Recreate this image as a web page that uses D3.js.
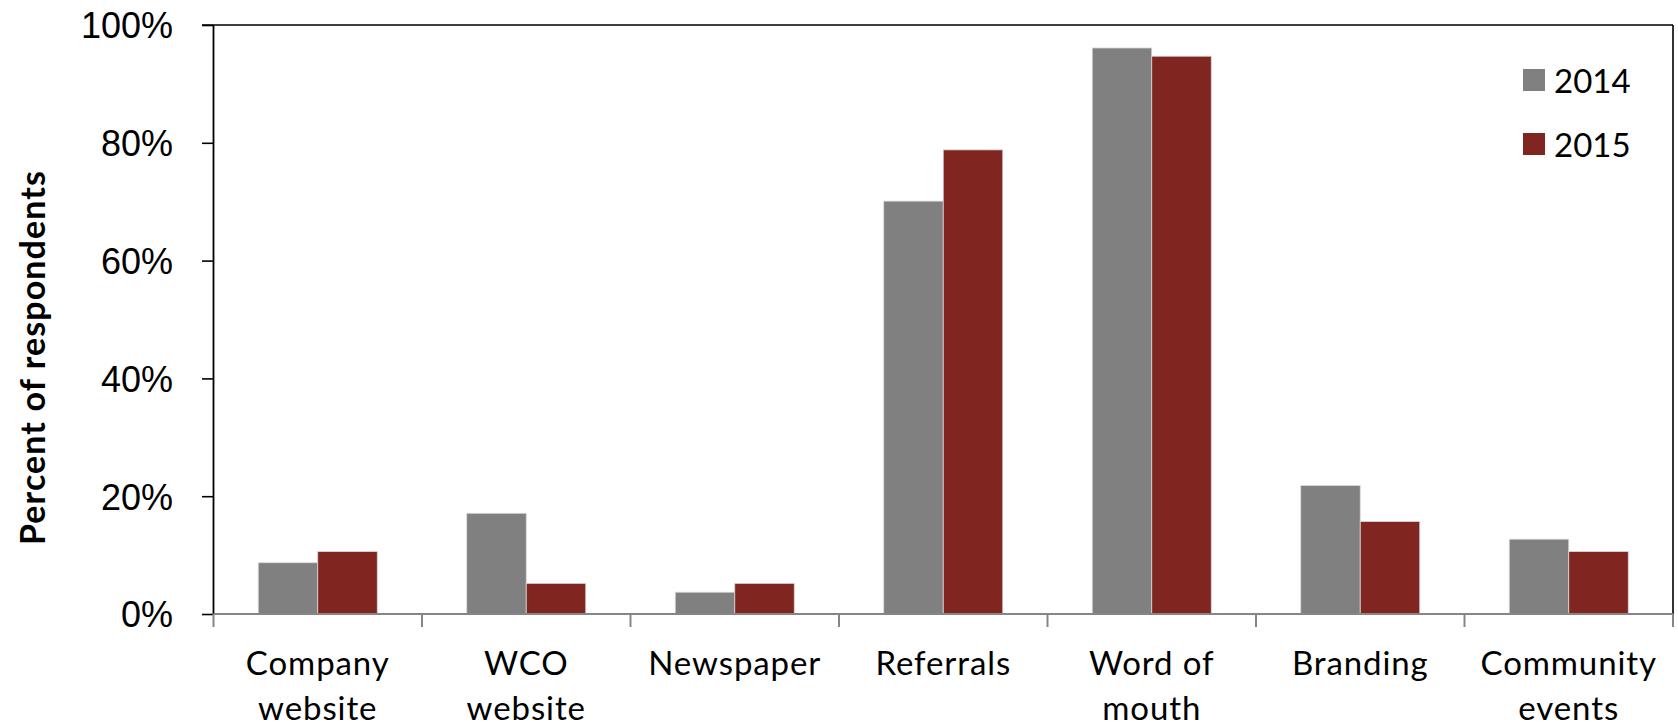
<!DOCTYPE html>
<html>
<head>
<meta charset="utf-8">
<script src="https://cdn.jsdelivr.net/npm/d3@7"></script>
<style>
  html, body { margin: 0; padding: 0; background: #fff; }
  svg { display: block; }
</style>
</head>
<body>
<svg id="chart" width="1678" height="726"></svg>
<script>
// ---- data ----
const categories = ["Company website", "WCO website", "Newspaper", "Referrals", "Word of mouth", "Branding", "Community events"];
const categoryLines = [["Company", "website"], ["WCO", "website"], ["Newspaper"], ["Referrals"], ["Word of", "mouth"], ["Branding"], ["Community", "events"]];
const seriesNames = ["2014", "2015"];
const values2014 = [8.7, 17.1, 3.7, 70.1, 96.1, 21.8, 12.7];
const values2015 = [10.6, 5.2, 5.2, 78.8, 94.7, 15.7, 10.6];
const yTicks = [0, 20, 40, 60, 80, 100];
const yTitle = "Percent of respondents";

// ---- layout ----
const svg = d3.select("#chart");
const L = 213.5, R = 1673, T = 25, B = 614;
const colors = { "2014": "#808080", "2015": "#80251f" };

const x = d3.scaleBand().domain(categories).range([L, R]).paddingInner(0).paddingOuter(0);
const bw = x.bandwidth();
const xs = d3.scaleBand().domain(seriesNames).range([bw * 0.2146, bw * 0.7854]).padding(0);
const y = d3.scaleLinear().domain([0, 100]).range([B, T]);

const rows = categories.map((c, i) => ({ cat: c, vals: [values2014[i], values2015[i]] }));

// bars
const g = svg.append("g");
rows.forEach(r => {
  seriesNames.forEach((s, j) => {
    g.append("rect")
      .attr("x", x(r.cat) + xs(s))
      .attr("y", y(r.vals[j]))
      .attr("width", xs.bandwidth())
      .attr("height", y(0) - y(r.vals[j]))
      .attr("fill", colors[s])
      .attr("stroke", "#d9d9d9")
      .attr("stroke-width", 0.8);
  });
});

// top and right border
svg.append("line").attr("x1", L - 11.5).attr("x2", R).attr("y1", y(100)).attr("y2", y(100))
  .attr("stroke", "#000").attr("stroke-width", 1.6);
svg.append("line").attr("x1", R).attr("x2", R).attr("y1", y(100)).attr("y2", y(0))
  .attr("stroke", "#000").attr("stroke-width", 1.6);

// y axis
const yAxis = d3.axisLeft(y).tickValues(yTicks).tickSize(11.5).tickPadding(29).tickFormat(d => d + "%");
const ya = svg.append("g").attr("transform", `translate(${L},0)`).call(yAxis);
ya.select(".domain").attr("stroke", "#000").attr("stroke-width", 1.8).attr("d", `M0,${T}V${B}`);
ya.selectAll(".tick line").attr("stroke", "#000").attr("stroke-width", 1.6);
ya.selectAll(".tick text")
  .attr("font-family", "'Liberation Sans', Arial, sans-serif")
  .attr("font-size", 36).attr("fill", "#000").attr("dy", "0.36em");

// x axis
const xa = svg.append("g").attr("transform", `translate(0,${B})`);
xa.append("line").attr("x1", L).attr("x2", R).attr("y1", 0).attr("y2", 0)
  .attr("stroke", "#868686").attr("stroke-width", 2.2);
const bounds = categories.map(c => x(c)).concat([R]);
xa.selectAll("line.xt").data(bounds).join("line").attr("class", "xt")
  .attr("x1", d => d).attr("x2", d => d).attr("y1", 0).attr("y2", 13)
  .attr("stroke", "#868686").attr("stroke-width", 2);

const labelFont = "Lato, 'Open Sans', sans-serif";
categories.forEach((c, i) => {
  const t = svg.append("text")
    .attr("x", x(c) + bw / 2).attr("y", 675)
    .attr("text-anchor", "middle")
    .attr("font-family", labelFont).attr("font-size", 33).attr("letter-spacing", 0.9).attr("fill", "#000");
  categoryLines[i].forEach((ln, k) => {
    t.append("tspan").attr("x", x(c) + bw / 2).attr("y", 675 + k * 45).text(ln);
  });
});

// y title
svg.append("text")
  .attr("transform", `translate(45,358) rotate(-90)`)
  .attr("text-anchor", "middle")
  .attr("font-family", labelFont).attr("font-weight", "bold").attr("font-size", 34)
  .attr("textLength", 374).attr("lengthAdjust", "spacing")
  .attr("fill", "#000").text(yTitle);

// legend
const lg = svg.append("g");
seriesNames.forEach((s, i) => {
  const yy = 69 + i * 64;
  lg.append("rect").attr("x", 1523).attr("y", yy).attr("width", 22).attr("height", 22).attr("fill", colors[s]);
  lg.append("text").attr("x", 1554).attr("y", yy + 24)
    .attr("font-family", labelFont).attr("font-size", 33).attr("fill", "#000").text(s);
});
</script>
</body>
</html>
